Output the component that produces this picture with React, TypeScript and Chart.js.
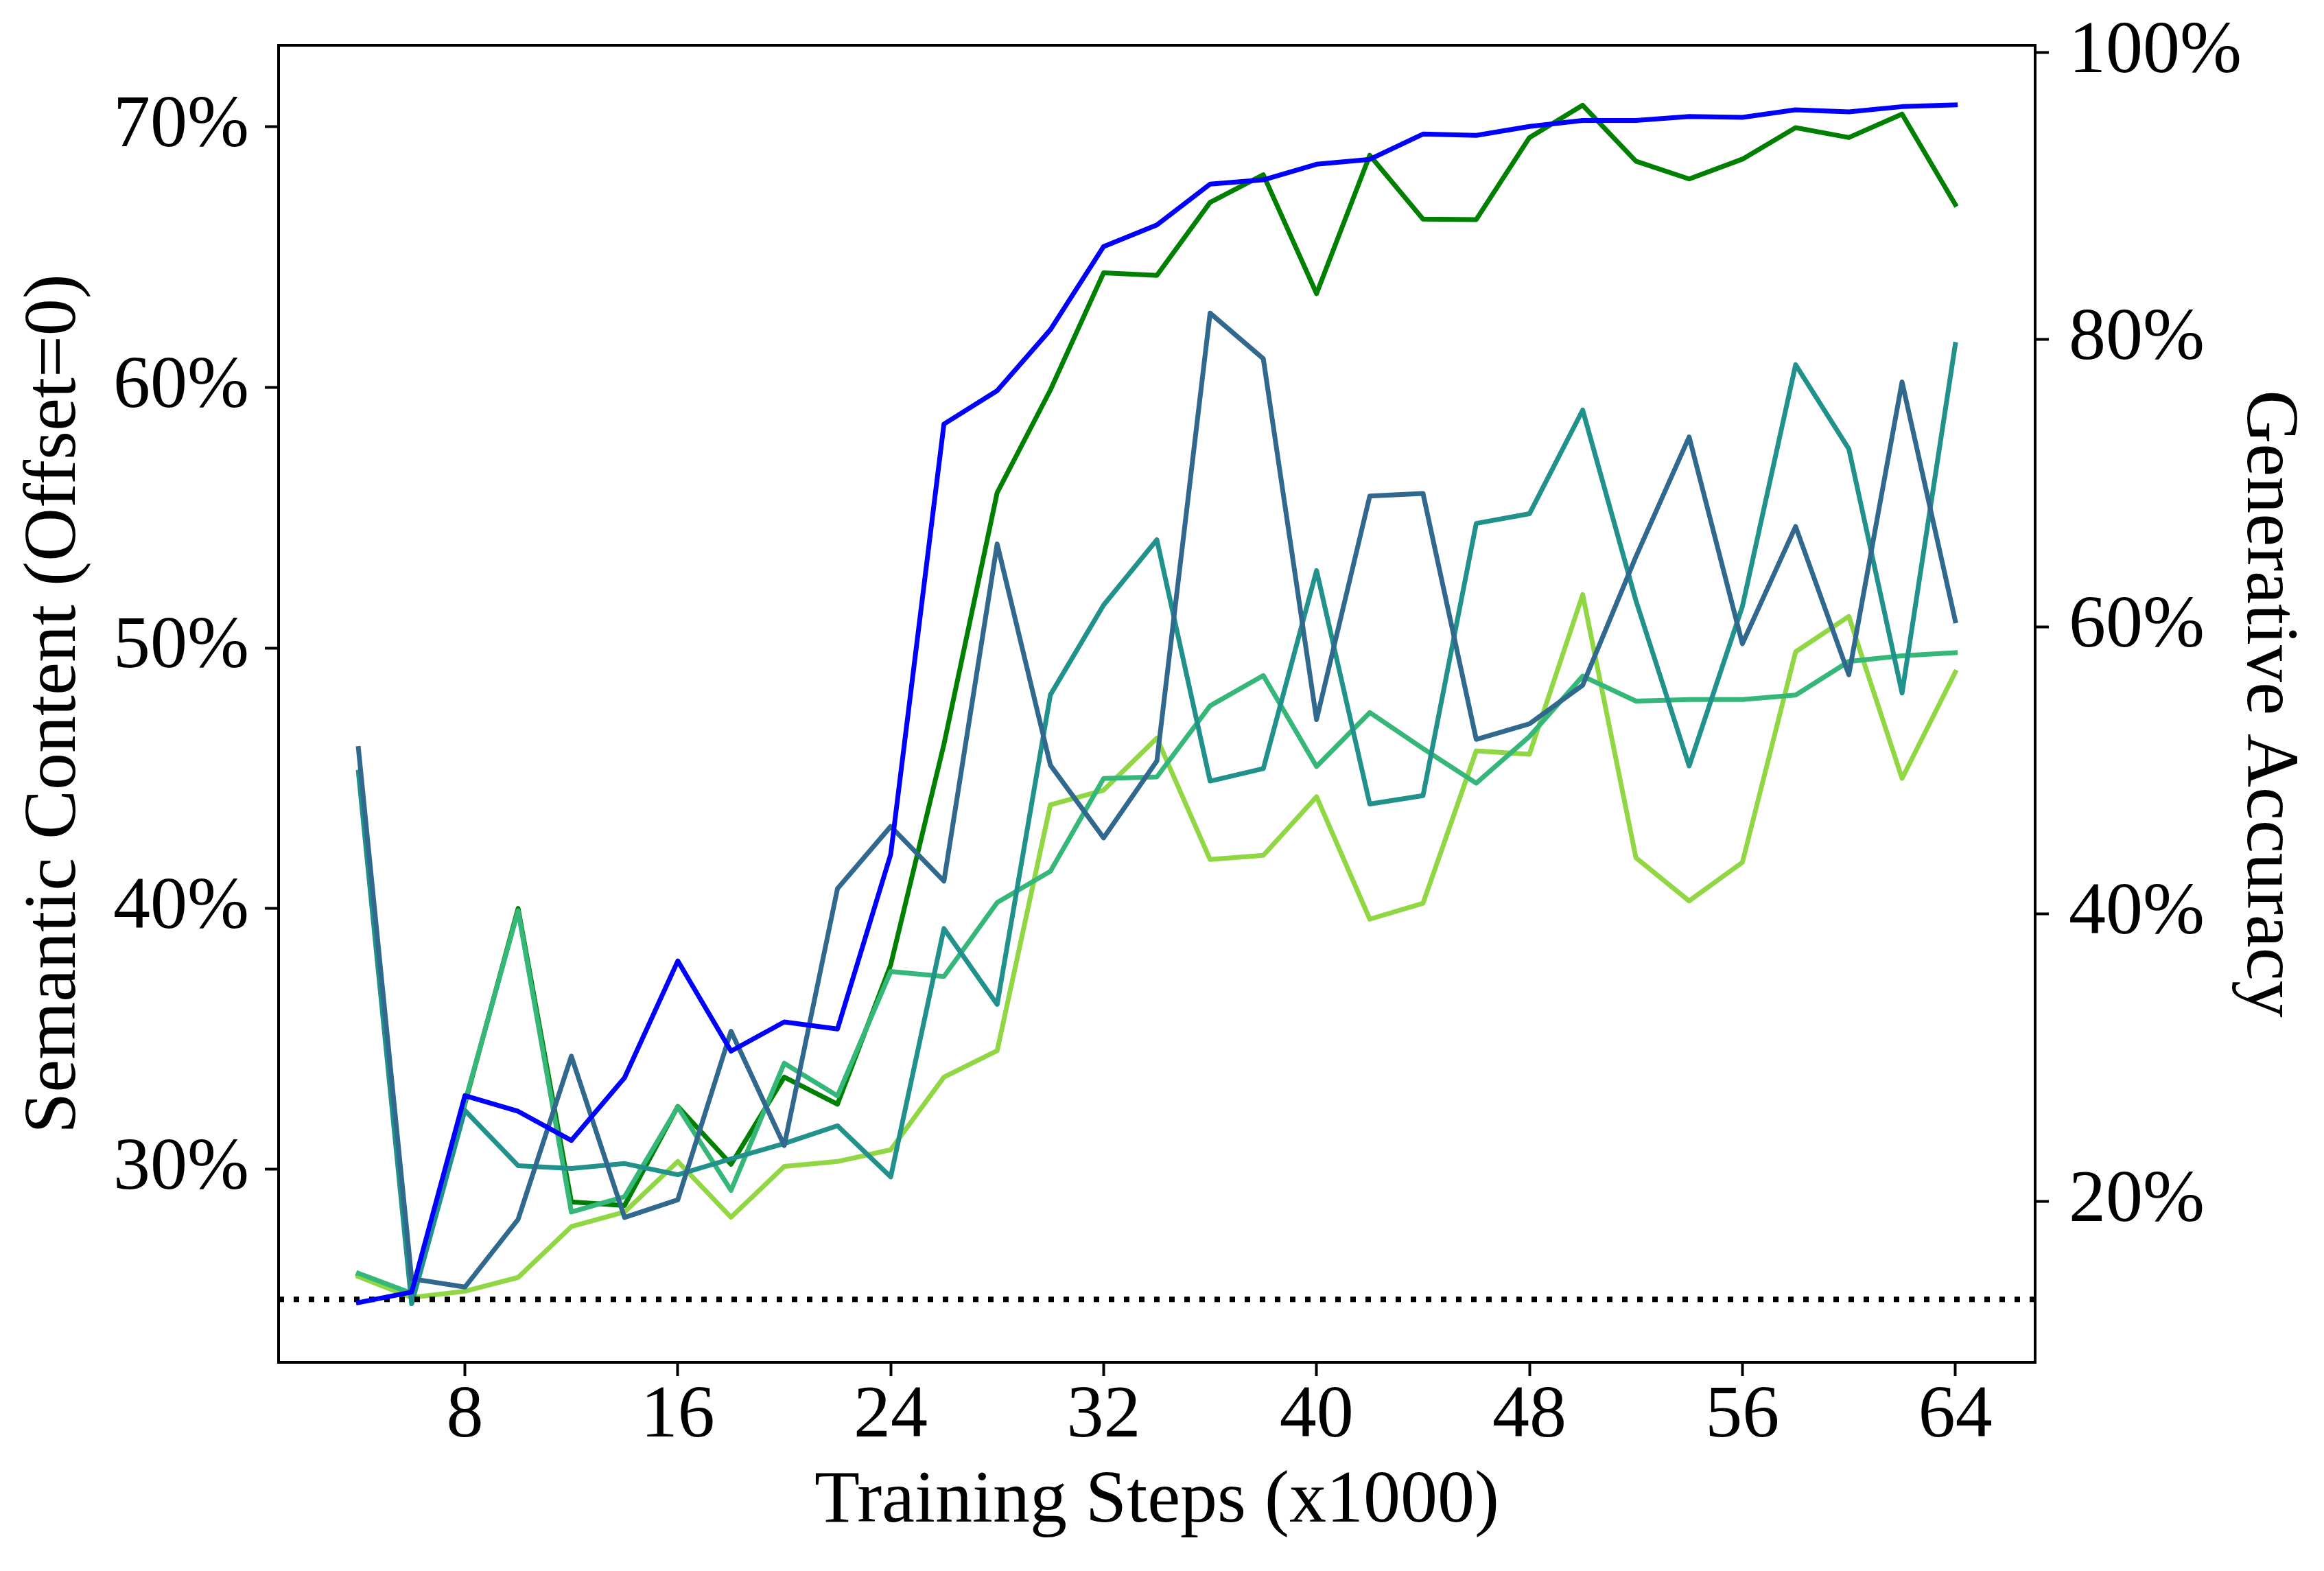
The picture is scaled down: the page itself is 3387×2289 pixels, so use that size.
import React, { useEffect, useRef } from "react";
import { Chart, registerables } from "chart.js";

Chart.register(...registerables);

// training steps (x1000)
const steps = [4, 6, 8, 10, 12, 14, 16, 18, 20, 22, 24, 26, 28, 30, 32, 34, 36, 38, 40, 42, 44, 46, 48, 50, 52, 54, 56, 58, 60, 62, 64];

// semantic content (left axis, %)
const darkGreen = [25.95, 25.2, 32.5, 40.0, 28.74, 28.6, 32.4, 30.18, 33.53, 32.49, 37.84, 46.3, 55.96, 59.9, 64.4, 64.3, 67.1, 68.16, 63.6, 68.91, 66.46, 66.44, 69.59, 70.83, 68.68, 68.0, 68.76, 69.97, 69.59, 70.49, 67.02];
const darkSlate = [46.14, 25.79, 25.47, 28.07, 34.33, 28.14, 28.82, 35.29, 30.9, 40.76, 43.15, 41.05, 53.99, 45.5, 42.71, 45.66, 62.85, 61.1, 47.25, 55.83, 55.93, 46.49, 47.09, 48.57, 53.5, 58.1, 50.16, 54.66, 48.97, 60.21, 51.04];
const teal = [45.23, 24.83, 32.25, 30.13, 30.02, 30.21, 29.78, 30.39, 30.98, 31.66, 29.7, 39.23, 36.32, 48.2, 51.65, 54.15, 44.89, 45.37, 52.97, 44.01, 44.33, 54.78, 55.15, 59.13, 51.82, 45.47, 51.59, 60.87, 57.64, 48.27, 61.65];
const greenTeal = [26.0, 25.23, 32.57, 39.91, 28.35, 28.94, 32.38, 29.18, 34.06, 32.81, 37.58, 37.39, 40.23, 41.43, 44.99, 45.05, 47.78, 48.94, 45.45, 47.52, 46.14, 44.81, 46.6, 48.92, 47.96, 48.02, 48.02, 48.19, 49.48, 49.7, 49.82];
const lightGreen = [25.87, 25.07, 25.31, 25.84, 27.79, 28.35, 30.29, 28.15, 30.1, 30.29, 30.74, 33.53, 34.54, 43.98, 44.54, 46.54, 41.88, 42.04, 44.29, 39.59, 40.2, 46.05, 45.92, 52.05, 41.95, 40.29, 41.77, 49.85, 51.21, 44.99, 49.07];

// generative accuracy (right axis, %)
const generative = [12.95, 13.68, 27.36, 26.27, 24.24, 28.61, 36.74, 30.46, 32.49, 32.0, 44.16, 74.12, 76.44, 80.69, 86.48, 87.98, 90.83, 91.12, 92.21, 92.55, 94.31, 94.22, 94.84, 95.26, 95.26, 95.53, 95.47, 96.0, 95.85, 96.22, 96.34];

// chance level on the left axis
const chanceX = [1, 67];
const chanceY = 25;

const xTicks = [8, 16, 24, 32, 40, 48, 56, 64];
const leftTicks = [30, 40, 50, 60, 70];
const rightTicks = [20, 40, 60, 80, 100];

const FONT = "'Liberation Serif', 'Times New Roman', serif";

const toPoints = (ys: number[]) => steps.map((s, i) => ({ x: s, y: ys[i] }));

const line = (data: { x: number; y: number }[], color: string, axis = "y") => ({
  data,
  borderColor: color,
  backgroundColor: color,
  borderWidth: 7,
  pointRadius: 0,
  tension: 0,
  borderJoinStyle: "round" as const,
  borderCapStyle: "square" as const,
  yAxisID: axis,
});

// box around the plot area (all four spines)
const framePlugin = {
  id: "frame",
  afterDatasetsDraw(chart: Chart) {
    const { ctx, chartArea } = chart;
    ctx.save();
    ctx.strokeStyle = "#000";
    ctx.lineWidth = 4;
    ctx.strokeRect(chartArea.left, chartArea.top, chartArea.right - chartArea.left, chartArea.bottom - chartArea.top);
    ctx.restore();
  },
};

const tickGrid = {
  drawOnChartArea: false,
  drawTicks: true,
  tickLength: 20,
  tickWidth: 4,
  tickColor: "#000",
};

// fixed axis sizes so the plot box lands where the reference has it
const fixSize = (size: number, vertical: boolean) => (scale: any) => {
  if (vertical) scale.width = size;
  else scale.height = size;
  scale.paddingTop = 0;
  scale.paddingBottom = 0;
  scale.paddingLeft = 0;
  scale.paddingRight = 0;
};

const App: React.FC = () => {
  const canvasRef = useRef<HTMLCanvasElement>(null);
  const chartRef = useRef<Chart | null>(null);

  useEffect(() => {
    if (!canvasRef.current) return;
    if (chartRef.current) chartRef.current.destroy();
    const ctx = canvasRef.current.getContext("2d");
    if (!ctx) return;

    chartRef.current = new Chart(ctx, {
      type: "line",
      data: {
        datasets: [
          line(toPoints(generative), "#0000ff", "y1"),
          {
            ...line(chanceX.map((x) => ({ x, y: chanceY })), "#000000"),
            borderWidth: 8,
            borderDash: [8, 14],
            borderCapStyle: "butt" as const,
          },
          line(toPoints(darkSlate), "#31688e"),
          line(toPoints(teal), "#21918c"),
          line(toPoints(greenTeal), "#35b779"),
          line(toPoints(lightGreen), "#90d743"),
          line(toPoints(darkGreen), "#008000"),
        ],
      },
      options: {
        responsive: true,
        maintainAspectRatio: false,
        animation: false,
        layout: { padding: { top: 66, left: 0, right: 0, bottom: 0 } },
        plugins: {
          legend: { display: false },
          tooltip: { enabled: false },
        },
        scales: {
          x: {
            type: "linear",
            min: 1,
            max: 67,
            afterBuildTicks: (axis: any) => {
              axis.ticks = xTicks.map((v) => ({ value: v }));
            },
            afterFit: fixSize(304, false),
            grid: tickGrid,
            border: { display: false },
            ticks: {
              color: "#000",
              padding: 6,
              maxRotation: 0,
              font: { family: FONT, size: 108, lineHeight: 1 },
            },
            title: {
              display: true,
              text: "Training Steps (x1000)",
              color: "#000",
              padding: { top: 0, bottom: 36 },
              font: { family: FONT, size: 108 },
            },
          },
          y: {
            type: "linear",
            position: "left",
            min: 22.58,
            max: 73.13,
            afterBuildTicks: (axis: any) => {
              axis.ticks = leftTicks.map((v) => ({ value: v }));
            },
            afterFit: fixSize(406, true),
            grid: tickGrid,
            border: { display: false },
            ticks: {
              color: "#000",
              padding: 23,
              callback: (v: any) => `${v}%`,
              font: { family: FONT, size: 108, lineHeight: 1 },
            },
            title: {
              display: true,
              text: "Semantic Content (Offset=0)",
              color: "#000",
              padding: { top: 16, bottom: 0 },
              font: { family: FONT, size: 108 },
            },
          },
          y1: {
            type: "linear",
            position: "right",
            min: 8.79,
            max: 100.49,
            afterBuildTicks: (axis: any) => {
              axis.ticks = rightTicks.map((v) => ({ value: v }));
            },
            afterFit: fixSize(421, true),
            grid: tickGrid,
            border: { display: false },
            ticks: {
              color: "#000",
              padding: 29,
              callback: (v: any) => `${v}%`,
              font: { family: FONT, size: 108, lineHeight: 1 },
            },
            title: {
              display: true,
              text: "Generative Accuracy",
              color: "#000",
              padding: { top: 18, bottom: 0 },
              font: { family: FONT, size: 108 },
            },
          },
        },
      },
      plugins: [framePlugin],
    });

    return () => {
      if (chartRef.current) {
        chartRef.current.destroy();
        chartRef.current = null;
      }
    };
  }, []);

  return (
    <div style={{ position: "fixed", left: 0, top: 0, width: "3387px", height: "2289px", background: "#fff" }}>
      <canvas ref={canvasRef}></canvas>
    </div>
  );
};

export default App;
